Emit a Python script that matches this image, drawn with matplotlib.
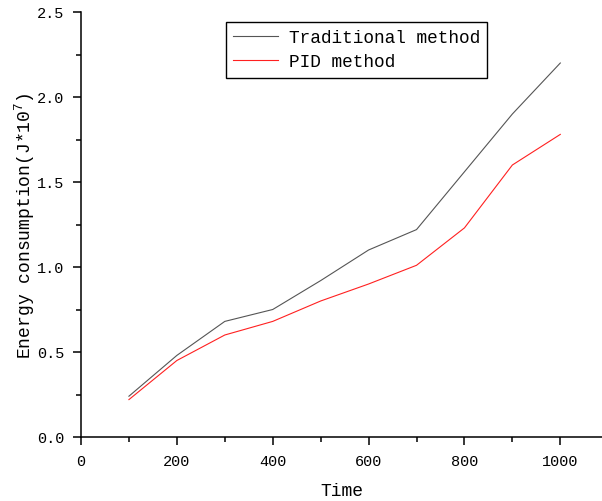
import matplotlib
matplotlib.use("Agg")
import matplotlib.pyplot as plt
from matplotlib.ticker import MultipleLocator

plt.rcParams['font.family'] = ['Liberation Mono', 'DejaVu Sans Mono']
plt.rcParams['mathtext.fontset'] = 'custom'
plt.rcParams['mathtext.rm'] = 'Liberation Mono'
plt.rcParams['mathtext.it'] = 'Liberation Mono'

time = [100, 200, 300, 400, 500, 600, 700, 800, 900, 1000]
traditional = [0.24, 0.48, 0.68, 0.75, 0.92, 1.10, 1.22, 1.56, 1.90, 2.20]
pid = [0.22, 0.45, 0.60, 0.68, 0.80, 0.90, 1.01, 1.23, 1.60, 1.78]

fig = plt.figure(figsize=(6.02, 5.02), dpi=100)
ax = fig.add_axes([81/602, 1 - 438/502, 521/602, 425/502])

ax.plot(time, traditional, color='#555555', lw=0.8, label='Traditional method')
ax.plot(time, pid, color='#ff2020', lw=0.8, label='PID method')

ax.set_xlim(0, 1087)
ax.set_ylim(0, 2.5)
ax.xaxis.set_major_locator(MultipleLocator(200))
ax.xaxis.set_minor_locator(MultipleLocator(100))
ax.yaxis.set_major_locator(MultipleLocator(0.5))
ax.yaxis.set_minor_locator(MultipleLocator(0.25))
ax.yaxis.set_major_formatter(matplotlib.ticker.FormatStrFormatter('%.1f'))

ax.spines['top'].set_visible(False)
ax.spines['right'].set_visible(False)
for s in ['left', 'bottom']:
    ax.spines[s].set_linewidth(1.1)
ax.tick_params(which='major', length=6, width=1.1, labelsize=11, pad=6)
ax.tick_params(which='minor', length=3.5, width=1.1)

ax.set_xlabel('Time', fontsize=13, labelpad=10)
ax.set_ylabel('Energy consumption(J*10$^7$)', fontsize=13)
ax.yaxis.set_label_coords(-0.084, 0.5)

leg = ax.legend(loc='upper left', bbox_to_anchor=(0.279, 0.976), fontsize=12.8,
                fancybox=False, framealpha=1, edgecolor='black',
                handlelength=2.5, borderpad=0.4, labelspacing=0.4,
                handletextpad=0.6, borderaxespad=0)
leg.get_frame().set_linewidth(1.0)

fig.savefig('out.png', dpi=100)
